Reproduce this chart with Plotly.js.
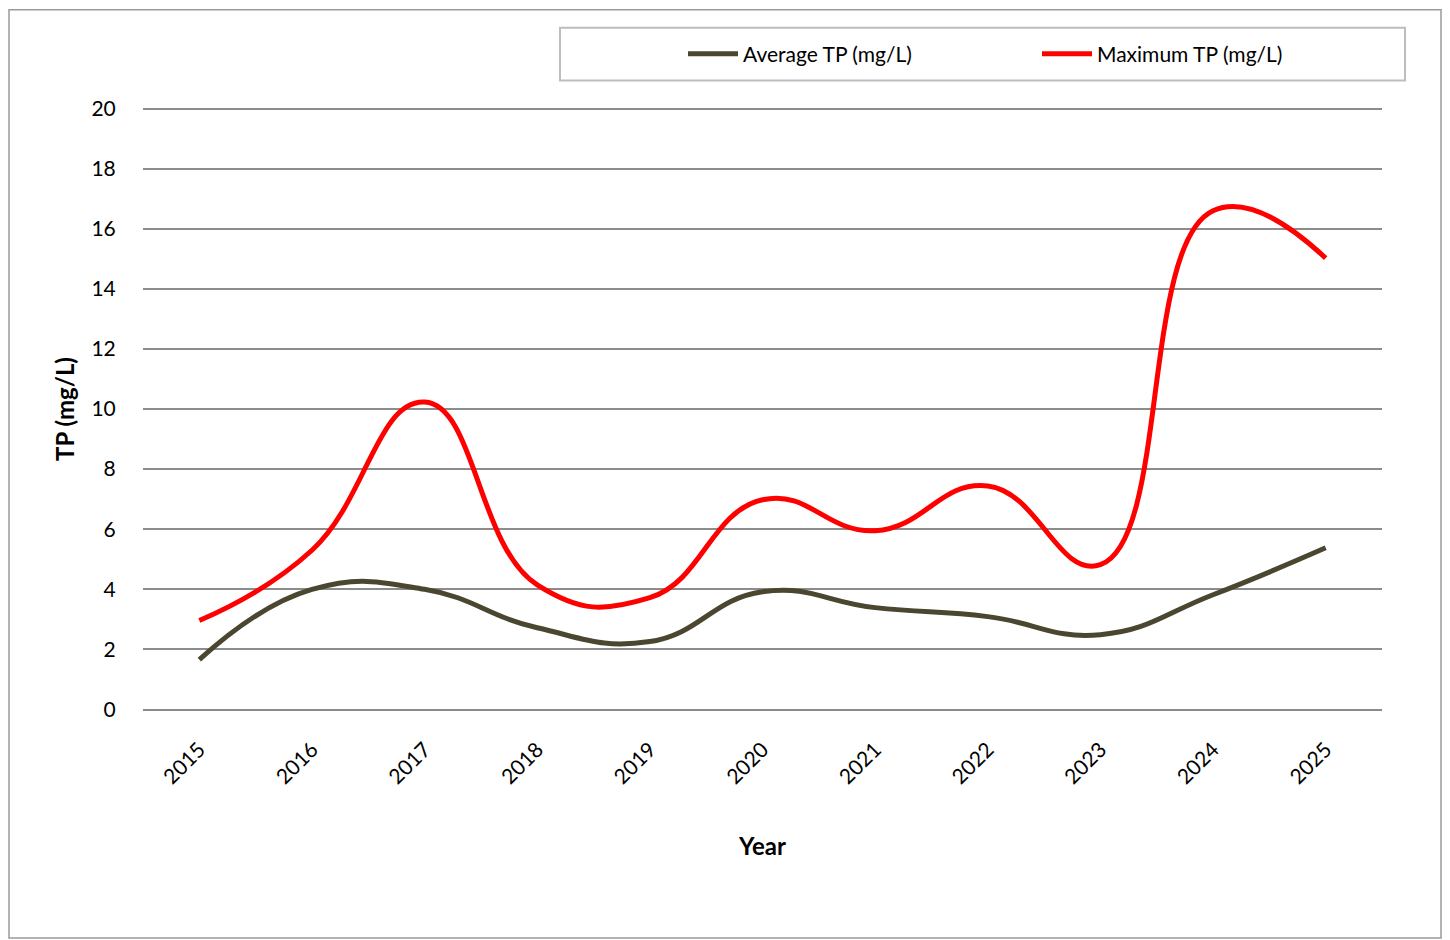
<!DOCTYPE html>
<html><head><meta charset="utf-8">
<script src="https://cdn.plot.ly/plotly-3.0.1.min.js"></script>
<style>body{margin:0;background:#fff}#c{width:1450px;height:940px}</style>
</head><body><div id="c"></div>
<script>
const years = ['2015','2016','2017','2018','2019','2020','2021','2022','2023','2024','2025'];
const avgTP = [1.66, 4.0, 4.0, 2.72, 2.26, 3.92, 3.39, 3.09, 2.49, 3.82, 5.38];
const maxTP = [2.96, 5.3, 10.23, 4.15, 3.72, 6.98, 5.95, 7.44, 4.82, 16.6, 15.02];
const yTicks = [0,2,4,6,8,10,12,14,16,18,20];

const F = 'Lato, "Open Sans", sans-serif';
const W=1450, H=940;
const L=143, R=1382, T=106.5, B=711.5;
const pw=R-L, ph=B-T;
const px = x => (x-L)/pw, py = y => (B-y)/ph;

const traces = [
  {x: years, y: avgTP, name: 'Average TP (mg/L)', mode: 'lines',
   line: {color: '#4B4630', width: 5, shape: 'spline', smoothing: 1.3}},
  {x: years, y: maxTP, name: 'Maximum TP (mg/L)', mode: 'lines',
   line: {color: '#FF0000', width: 5, shape: 'spline', smoothing: 1.3}}
];

const layout = {
  width: W, height: H,
  margin: {l: L, r: W-R, t: T, b: H-B, pad: 0, autoexpand: false},
  paper_bgcolor: '#fff', plot_bgcolor: '#fff',
  font: {family: F, size: 20, color: '#000'},
  showlegend: true,
  legend: {orientation: 'h', xref: 'container', yref: 'container',
    x: 683/W, y: 1-54/H, xanchor: 'left', yanchor: 'middle',
    entrywidth: 289, entrywidthmode: 'pixels', itemwidth: 50,
    font: {family: F, size: 21, color: '#000'}, bgcolor: 'rgba(0,0,0,0)'},
  xaxis: {type: 'category', categoryorder: 'array', categoryarray: years,
    range: [-0.5, 10.5], autorange: false,
    tickangle: -45, ticks: 'outside', ticklen: 17, tickcolor: 'rgba(0,0,0,0)',
    showgrid: false, showline: false, zeroline: false,
    tickfont: {family: F, size: 21},
    title: {text: '<b>Year</b>', font: {family: F, size: 24}, standoff: 50}},
  yaxis: {range: [-0.05, 20.05], autorange: false, tickvals: yTicks, ticktext: yTicks.map(String),
    ticks: 'outside', ticklen: 22, tickcolor: 'rgba(0,0,0,0)',
    showgrid: true, gridcolor: '#8C8C8C', gridwidth: 2, zeroline: false, showline: false,
    tickfont: {family: F, size: 21},
    title: {text: '<b>TP (mg/L)</b>', font: {family: F, size: 24}, standoff: 10}},
  shapes: [
    {type: 'rect', xref: 'paper', yref: 'paper', x0: px(9), x1: px(1441), y0: py(939), y1: py(9),
     line: {color: '#9A9A9A', width: 1.5}, fillcolor: 'rgba(0,0,0,0)', layer: 'below'},
    {type: 'rect', xref: 'paper', yref: 'paper', x0: px(560), x1: px(1405), y0: py(80), y1: py(27),
     line: {color: '#BDBDBD', width: 2}, fillcolor: 'rgba(0,0,0,0)', layer: 'below'}
  ]
};
Plotly.newPlot('c', traces, layout, {displayModeBar: false, staticPlot: true});
</script></body></html>
